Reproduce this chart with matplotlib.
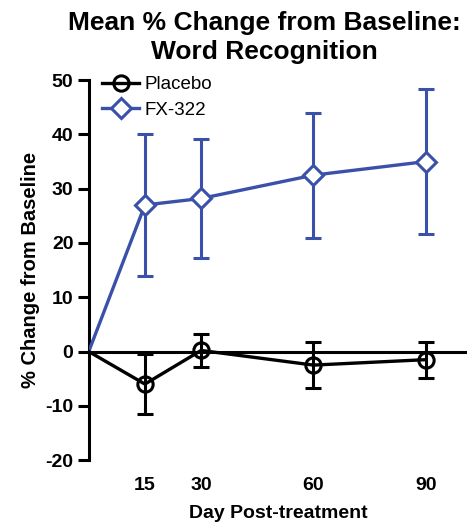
import matplotlib
matplotlib.use("Agg")
import matplotlib.pyplot as plt

plt.rcParams['font.family'] = ['Liberation Sans', 'DejaVu Sans']

days = [0, 15, 30, 60, 90]
fx_mean = [0, 27.0, 28.2, 32.5, 35.0]
fx_err = [0, 13.0, 11.0, 11.5, 13.3]
pl_mean = [0, -6.0, 0.2, -2.5, -1.5]
pl_err = [0, 5.5, 3.0, 4.2, 3.3]
xticks = [15, 30, 60, 90]
yticks = [-20, -10, 0, 10, 20, 30, 40, 50]

blue = '#3b50a8'

fig = plt.figure(figsize=(4.67, 5.24), dpi=100)
ax = fig.add_axes([0.19, 0.122, 0.81, 0.725])

ax.axhline(0, color='black', lw=2.2, zorder=1)

ax.errorbar(days[1:], fx_mean[1:], yerr=fx_err[1:], fmt='none', ecolor=blue,
            elinewidth=2.2, capsize=5.5, capthick=2.2, zorder=2)
ax.plot(days, fx_mean, color=blue, lw=2.4, marker='D', markersize=10,
        markerfacecolor='white', markeredgecolor=blue, markeredgewidth=2.2,
        markevery=[1, 2, 3, 4], label='FX-322', zorder=3)

ax.errorbar(days[1:], pl_mean[1:], yerr=pl_err[1:], fmt='none', ecolor='black',
            elinewidth=2.2, capsize=5.5, capthick=2.2, zorder=4)
ax.plot(days, pl_mean, color='black', lw=2.4, marker='o', markersize=11,
        markerfacecolor='none', markeredgecolor='black', markeredgewidth=2.2,
        markevery=[1, 2, 3, 4], label='Placebo', zorder=5)

ax.set_xlim(0, 101)
ax.set_ylim(-20, 50)
ax.set_xticks(xticks)
ax.set_xticklabels([str(t) for t in xticks], fontweight='bold', fontsize=14)
ax.set_yticks(yticks)
ax.set_yticklabels([str(t) for t in yticks], fontweight='bold', fontsize=14)
ax.tick_params(axis='x', length=0, pad=12)
ax.tick_params(axis='y', length=8, width=2.2, pad=3)

for s in ['top', 'right', 'bottom']:
    ax.spines[s].set_visible(False)
ax.spines['left'].set_linewidth(2.2)

ax.set_xlabel('Day Post-treatment', fontweight='bold', fontsize=14, labelpad=8)
ax.set_ylabel('% Change from Baseline', fontweight='bold', fontsize=14.5, labelpad=4)
fig.text(0.567, 0.979, 'Mean % Change from Baseline:\nWord Recognition',
         ha='center', va='top', fontweight='bold', fontsize=19, linespacing=1.25)

h, l = ax.get_legend_handles_labels()
leg = ax.legend(h[::-1], l[::-1], loc='upper left', bbox_to_anchor=(0.0, 1.045),
                frameon=False, fontsize=13.5, handlelength=2.0, handletextpad=0.3,
                labelspacing=0.45, borderaxespad=0.3)

fig.savefig('out.png', dpi=100)
